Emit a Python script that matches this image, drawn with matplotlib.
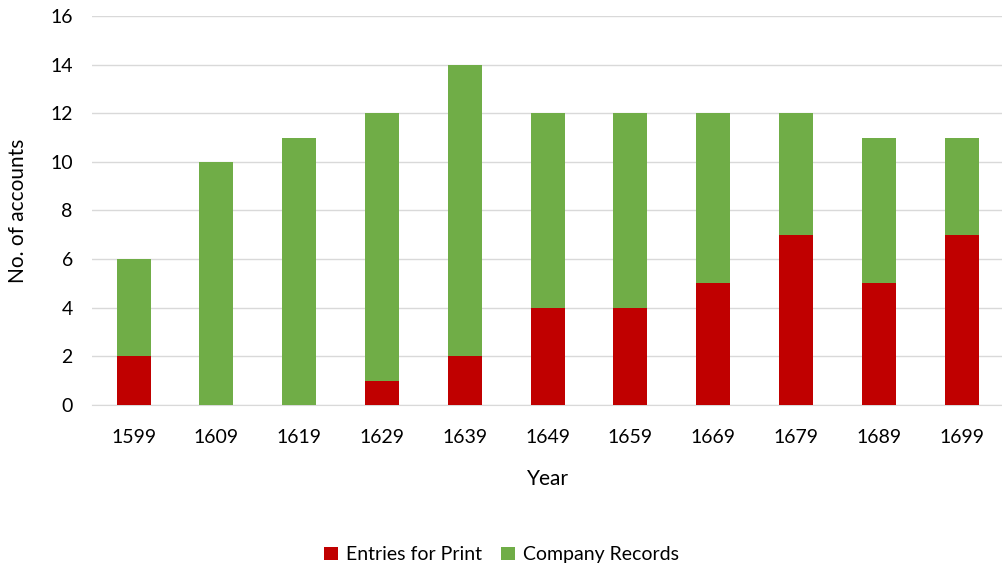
import numpy as np
import matplotlib.pyplot as plt

plt.rcParams['font.family'] = ['Lato', 'DejaVu Sans']

years = ['1599', '1609', '1619', '1629', '1639', '1649', '1659', '1669', '1679', '1689', '1699']
entries_for_print = [2, 0, 0, 1, 2, 4, 4, 5, 7, 5, 7]
company_records = [4, 10, 11, 11, 12, 8, 8, 7, 5, 6, 4]

fig = plt.figure(figsize=(10.03, 5.72), dpi=100)
ax = fig.add_axes([0.092, 0.292, 0.908, 0.68])

x = np.arange(len(years))
w = 0.41
ax.bar(x, entries_for_print, w, color='#C00000', label='Entries for Print', zorder=3)
ax.bar(x, company_records, w, bottom=entries_for_print, color='#70AD47',
       label='Company Records', zorder=3)

ax.set_xlim(-0.5, len(years) - 0.5)
ax.set_ylim(0, 16)
ax.set_yticks(range(0, 17, 2))
ax.set_xticks(x)
ax.set_xticklabels(years)
ax.grid(axis='y', color='#D9D9D9', linewidth=1, zorder=0)
for s in ['top', 'right', 'left']:
    ax.spines[s].set_visible(False)
ax.spines['bottom'].set_color('#D9D9D9')
ax.tick_params(axis='both', length=0, labelsize=14, colors='#000000')
ax.tick_params(axis='x', pad=17)
ax.tick_params(axis='y', pad=14)
ax.set_xlabel('Year', fontsize=15, labelpad=17)
ax.set_ylabel('No. of accounts', fontsize=15, labelpad=16)

fig.legend(loc='center', bbox_to_anchor=(0.5, 0.03), ncol=2, frameon=False,
           fontsize=14, handlelength=0.7, handleheight=0.7, columnspacing=1.0,
           handletextpad=0.4)

fig.savefig('out.png', dpi=100)
